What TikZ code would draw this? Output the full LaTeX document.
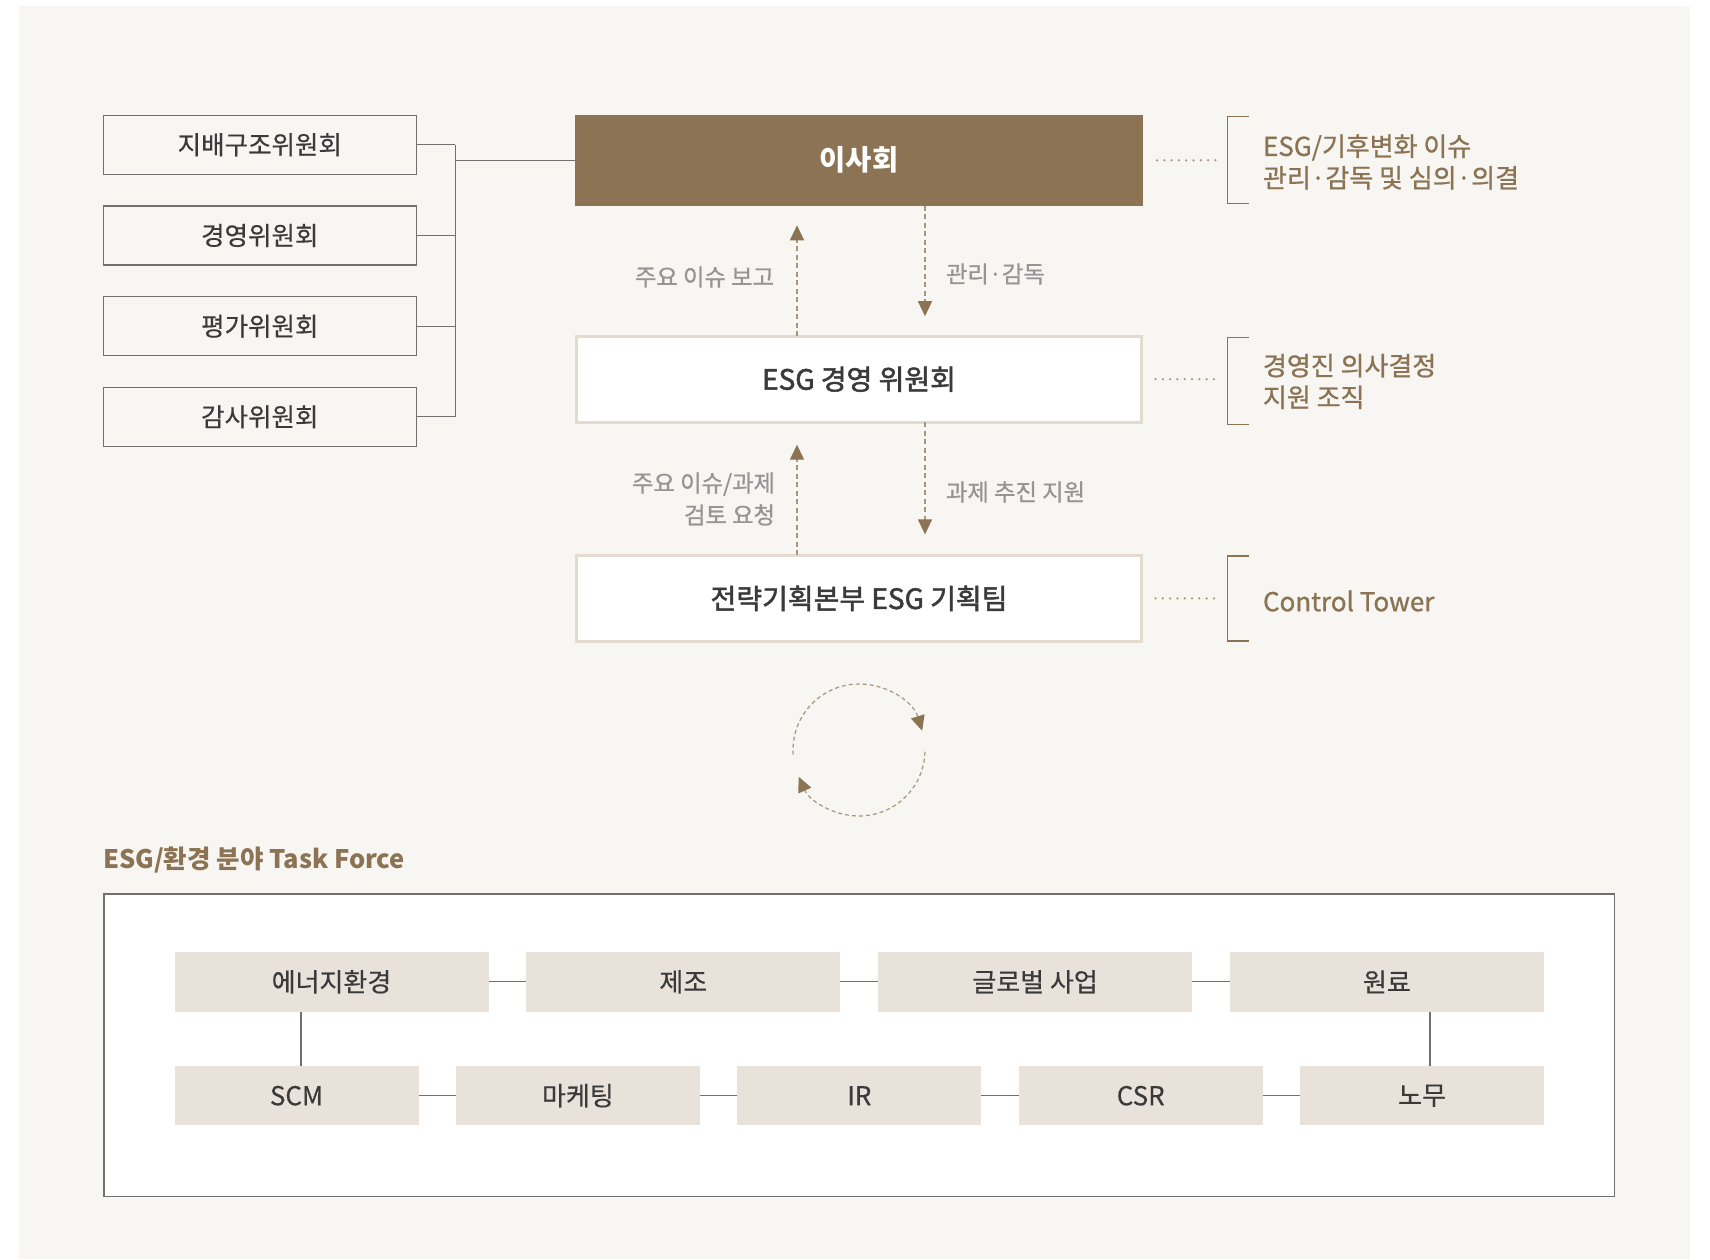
\documentclass[tikz,border=0pt]{standalone}
\usepackage{fontspec}
\setmainfont{Noto Sans CJK KR}
\newfontfamily\krsemi{Noto Sans CJK KR}[FakeBold=1.8]
\newfontfamily\krmed{Noto Sans CJK KR}[FakeBold=0.9]
\newfontfamily\krlite{Noto Sans CJK KR}[FakeBold=0.4]
\usetikzlibrary{arrows.meta}
\definecolor{bgc}{HTML}{F7F6F2}
\definecolor{brownc}{HTML}{8B7353}
\definecolor{arrowc}{HTML}{A8967C}
\definecolor{dotc}{HTML}{A89780}
\definecolor{beigeb}{HTML}{E3DBD0}
\definecolor{innerc}{HTML}{E8E2DA}
\definecolor{cline}{HTML}{707070}
\definecolor{dtext}{HTML}{3A3A3A}
\definecolor{ltext}{HTML}{959595}
\begin{document}
\begin{tikzpicture}[x=1pt,y=-1pt,
  every node/.style={inner sep=0pt, outer sep=0pt},
  comm/.style={draw=cline, line width=1.2pt, minimum width=313, minimum height=59,
    text=dtext, font=\fontsize{25.5}{30}\krlite},
  boardbox/.style={fill=brownc, minimum width=568, minimum height=91,
    text=white, font=\fontsize{28.5}{32}\selectfont\bfseries},
  mbox/.style={draw=beigeb, line width=3pt, fill=white, minimum width=565, minimum height=86,
    text=dtext, font=\fontsize{28}{32}\krsemi},
  conn/.style={draw=cline, line width=1.2pt},
  flow/.style={draw=arrowc, line width=1.3pt, dash pattern=on 5pt off 3.5pt,
    -{Triangle[length=15pt,width=14pt,color=brownc]}},
  leader/.style={draw=dotc, line width=2.5pt, line cap=round, dash pattern=on 0pt off 7.3pt},
  brk/.style={draw=brownc, line width=1.2pt},
  glabel/.style={text=ltext, font=\fontsize{23.3}{32}\krmed},
  rlabel/.style={anchor=west, align=left, text=brownc, font=\fontsize{26}{31.6}\krmed},
  cyc/.style={draw=arrowc, line width=1.2pt, dash pattern=on 4pt off 3pt,
    -{Triangle[length=15pt,width=14pt,color=brownc]}},
  tfbox/.style={fill=innerc, minimum height=59.5, text=dtext, font=\fontsize{26}{30}\krlite},
  tfline/.style={draw=cline, line width=1.2pt}
]
\useasboundingbox (0,0) rectangle (1710,1259);
\fill[white] (0,0) rectangle (1710,1259);
\fill[bgc] (19,6) rectangle (1690,1259);

% committees
\node[comm] (c1) at (259.8,144.7) {지배구조위원회};
\node[comm] (c2) at (259.8,235.5) {경영위원회};
\node[comm] (c3) at (259.8,326.2) {평가위원회};
\node[comm] (c4) at (259.8,416.8) {감사위원회};

% main boxes
\node[boardbox] (board) at (859,160.3) {이사회};
\node[mbox] (esg) at (859,379.2) {ESG 경영 위원회};
\node[mbox] (team) at (859,598.4) {전략기획본부 ESG 기획팀};

% bus
\coordinate (bus) at (455.4,160.3);
\draw[conn] (c1.east) -- (c1.east -| bus);
\draw[conn] (c2.east) -- (c2.east -| bus);
\draw[conn] (c3.east) -- (c3.east -| bus);
\draw[conn] (c4.east) -- (c4.east -| bus);
\draw[conn] (c1.east -| bus) -- (c4.east -| bus);
\draw[conn] (bus) -- (board.west);

% flow arrows
\coordinate (ua) at (797,0);
\coordinate (da) at (925,0);
\draw[flow, shorten >=19.5pt] (esg.north -| ua) -- (board.south -| ua);
\draw[flow, shorten >=20pt] (board.south -| da) -- (esg.north -| da);
\draw[flow, shorten >=22.5pt] (team.north -| ua) -- (esg.south -| ua);
\draw[flow, shorten >=21pt] (esg.south -| da) -- (team.north -| da);

\node[glabel, anchor=east] (l1) at (774,277) {주요 이슈 보고};
\node[glabel, anchor=west] (l2) at (946,274) {관리·감독};
\node[glabel, anchor=east, align=right] (l3) at (775,499) {주요 이슈/과제\\검토 요청};
\node[glabel, anchor=west] (l4) at (946,492) {과제 추진 지원};

% leaders and brackets
\draw[leader] ([xshift=14pt]board.east) -- ++(60,0);
\draw[leader] ([xshift=14pt]esg.east) -- ++(60,0);
\draw[leader] ([xshift=14pt]team.east) -- ++(60,0);
\draw[brk] (1249,116.7) -- (1227.4,116.7) -- (1227.4,203.3) -- (1249,203.3);
\draw[brk] (1249,337.3) -- (1227.4,337.3) -- (1227.4,424.3) -- (1249,424.3);
\draw[brk] (1249,556) -- (1227.4,556) -- (1227.4,641) -- (1249,641);
\node[rlabel] (r1) at (1263,162) {ESG/기후변화 이슈\\관리·감독 및 심의·의결};
\node[rlabel] (r2) at (1263,381.5) {경영진 의사결정\\지원 조직};
\node[rlabel] (r3) at (1263,601) {Control Tower};

% cycle
\begin{scope}[shift={(859,750)}, y=1pt]
\coordinate (cc) at (0,0);
\draw[cyc] (184:66) arc[start angle=184, end angle=17, radius=66];
\draw[cyc] (-1.5:66) arc[start angle=-1.5, end angle=-156, radius=66];
\end{scope}

% task force
\node[anchor=west, text=brownc, font=\fontsize{25.5}{30}\selectfont\bfseries] (tft) at (103,860) {ESG/환경 분야 Task Force};
\node[draw=cline, line width=1.5pt, fill=white, minimum width=1510.5, minimum height=302.5] (tf) at (859,1045) {};

\node[tfbox, minimum width=314] (e1) at (331.5,981.8) {에너지환경};
\node[tfbox, minimum width=314] (e2) at (683.3,981.8) {제조};
\node[tfbox, minimum width=314] (e3) at (1035.1,981.8) {글로벌 사업};
\node[tfbox, minimum width=314] (e4) at (1386.9,981.8) {원료};
\node[tfbox, minimum width=244] (s1) at (296.5,1095.7) {SCM};
\node[tfbox, minimum width=244] (s2) at (577.9,1095.7) {마케팅};
\node[tfbox, minimum width=244] (s3) at (859.3,1095.7) {IR};
\node[tfbox, minimum width=244] (s4) at (1140.7,1095.7) {CSR};
\node[tfbox, minimum width=244] (s5) at (1422.1,1095.7) {노무};

\draw[tfline] (e1) -- (e2);
\draw[tfline] (e2) -- (e3);
\draw[tfline] (e3) -- (e4);
\draw[tfline] (s1) -- (s2);
\draw[tfline] (s2) -- (s3);
\draw[tfline] (s3) -- (s4);
\draw[tfline] (s4) -- (s5);
\draw[tfline] ([xshift=4.5pt]s1.north) -- ([xshift=4.5pt]s1.north |- e1.south);
\draw[tfline] ([xshift=7.8pt]s5.north) -- ([xshift=7.8pt]s5.north |- e4.south);
\end{tikzpicture}
\end{document}
